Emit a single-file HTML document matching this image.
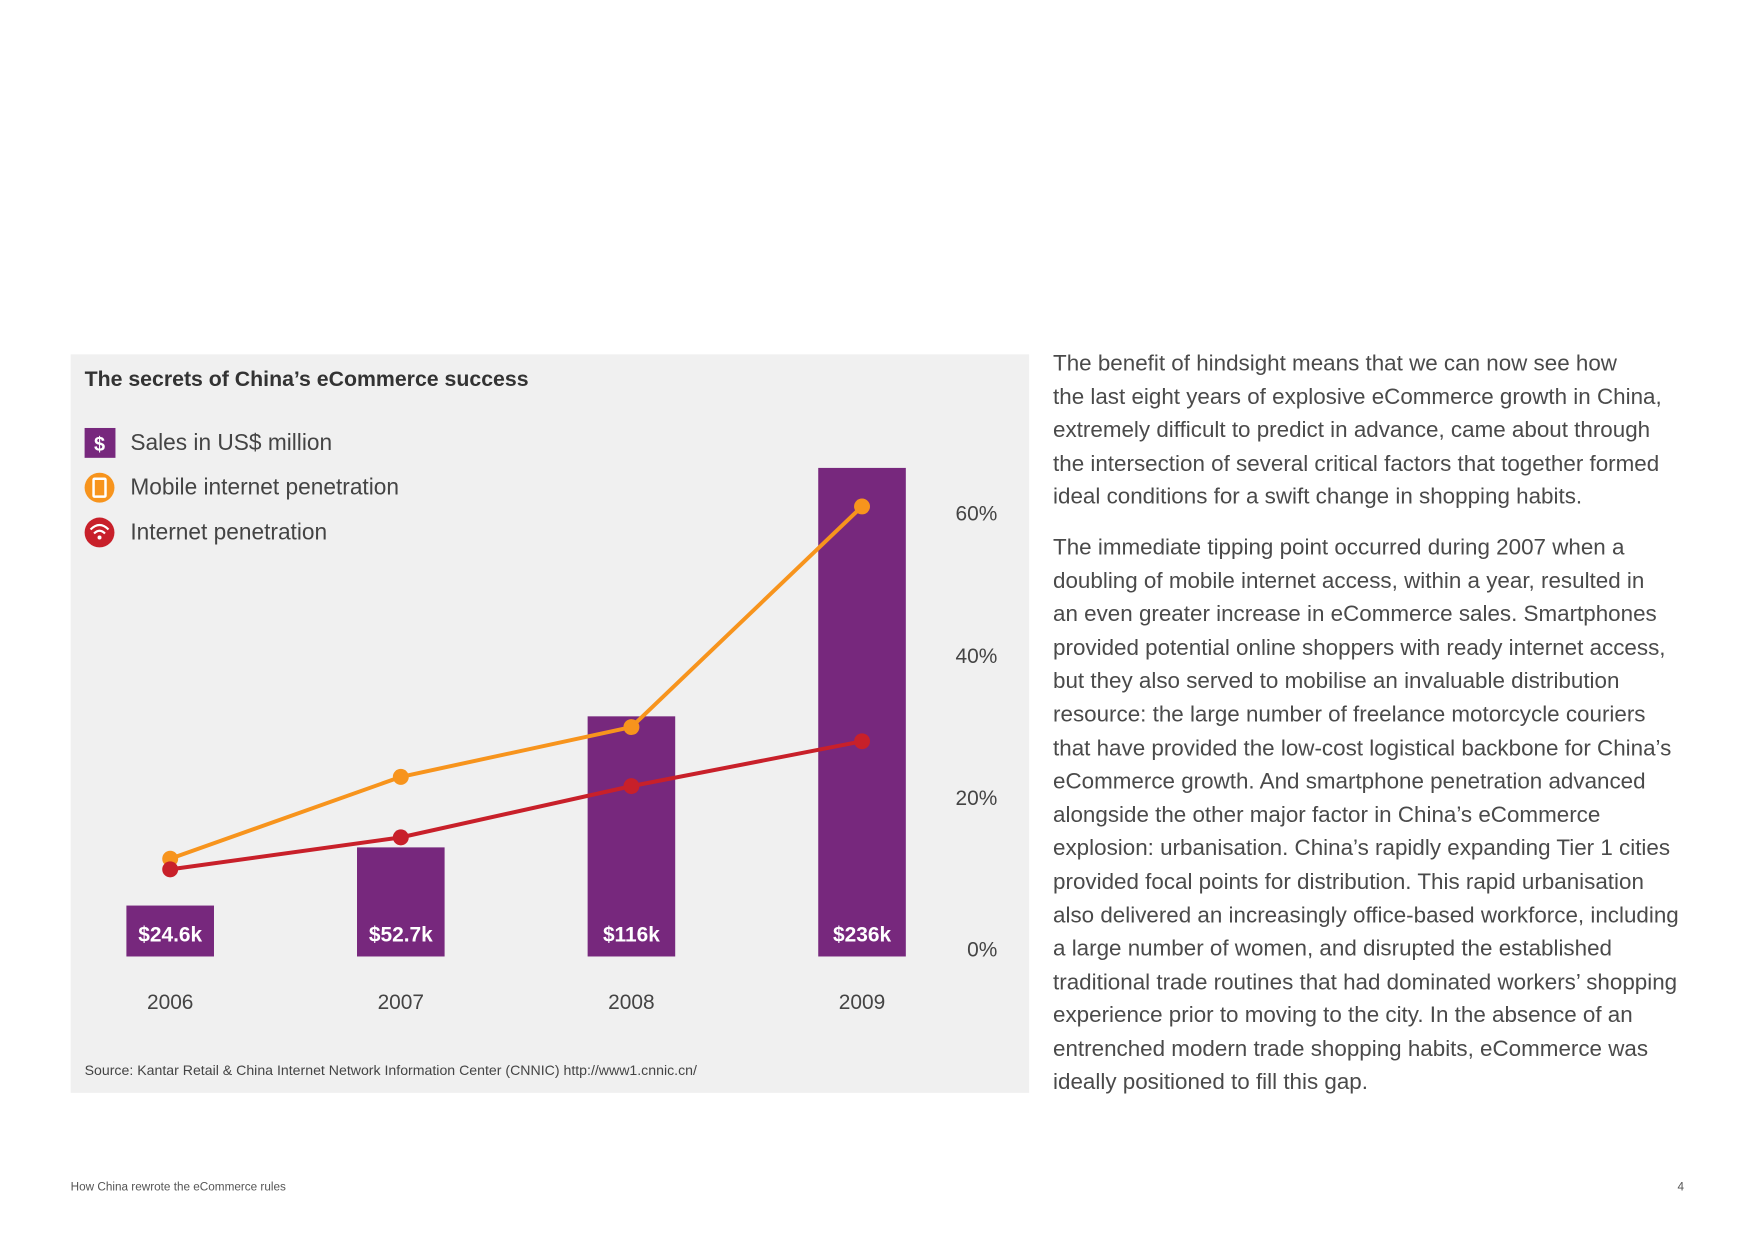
<!DOCTYPE html>
<html><head><meta charset="utf-8"><style>
body{margin:0;background:#fff;overflow:hidden;}
#page{position:relative;width:1754px;height:1240px;overflow:hidden;font-family:"Liberation Sans",sans-serif;color:#444;transform:scale(0.9953);transform-origin:0 0;}
#panel{position:absolute;left:71px;top:356px;width:963px;height:742px;background:#f0f0f0;}
#body-text{position:absolute;left:1058px;top:348px;width:700px;font-size:22.5px;line-height:33.6px;color:#4a4a4a;white-space:nowrap;}
#body-text p{margin:0 0 17px 0;}
</style></head><body>
<div id="page">
<div id="panel"></div>
<svg id="chart" width="1754" height="1240" style="position:absolute;left:0;top:0" font-family="Liberation Sans, sans-serif">
<text x="85" y="388" font-size="21.4" font-weight="bold" fill="#333">The secrets of China’s eCommerce success</text>
<g>
<rect x="85" y="430" width="31" height="30" fill="#77287d"/>
<text x="100" y="453" font-size="20" font-weight="bold" fill="#fff" text-anchor="middle">$</text>
<text x="131" y="452" font-size="22.8" fill="#444">Sales in US$ million</text></g>
<g>
<circle cx="100" cy="490" r="15" fill="#f7941d"/>
<rect x="94" y="481" width="12" height="18" rx="1" fill="none" stroke="#fff" stroke-width="2.5"/>
<text x="131" y="497" font-size="22.8" fill="#444">Mobile internet penetration</text></g>
<g>
<circle cx="100" cy="535" r="15" fill="#c8202a"/>
<path d="M91 532 Q100 523 109 532" fill="none" stroke="#fff" stroke-width="2.2"/>
<path d="M94.5 536 Q100 530.5 105.5 536" fill="none" stroke="#fff" stroke-width="2.2"/>
<circle cx="100" cy="540" r="2" fill="#fff"/>
<text x="131" y="542" font-size="22.8" fill="#444">Internet penetration</text></g>
<g id="bars"></g><g id="lines"></g><g id="ticks"></g><g id="years"></g>
<text x="85" y="1080" font-size="14.2" fill="#444">Source: Kantar Retail &amp; China Internet Network Information Center (CNNIC) http://www1.cnnic.cn/</text>
<text x="71" y="1196" font-size="11.8" fill="#555">How China rewrote the eCommerce rules</text>
<text x="1692" y="1196" font-size="11.8" fill="#555" text-anchor="end">4</text>
</svg>
<div id="body-text">
<p>The benefit of hindsight means that we can now see how<br>the last eight years of explosive eCommerce growth in China,<br>extremely difficult to predict in advance, came about through<br>the intersection of several critical factors that together formed<br>ideal conditions for a swift change in shopping habits.</p>
<p>The immediate tipping point occurred during 2007 when a<br>doubling of mobile internet access, within a year, resulted in<br>an even greater increase in eCommerce sales. Smartphones<br>provided potential online shoppers with ready internet access,<br>but they also served to mobilise an invaluable distribution<br>resource: the large number of freelance motorcycle couriers<br>that have provided the low-cost logistical backbone for China’s<br>eCommerce growth. And smartphone penetration advanced<br>alongside the other major factor in China’s eCommerce<br>explosion: urbanisation. China’s rapidly expanding Tier 1 cities<br>provided focal points for distribution. This rapid urbanisation<br>also delivered an increasingly office-based workforce, including<br>a large number of women, and disrupted the established<br>traditional trade routines that had dominated workers’ shopping<br>experience prior to moving to the city. In the absence of an<br>entrenched modern trade shopping habits, eCommerce was<br>ideally positioned to fill this gap.</p>
</div>
</div>
<script>
const years=["2006","2007","2008","2009"];
const sales=[24.6,52.7,116,236];
const salesLabels=["$24.6k","$52.7k","$116k","$236k"];
const mobilePct=[11.5,23,30,61];
const internetPct=[10,14.5,21.7,28];
const pctTicks=[0,20,40,60];
const NS="http://www.w3.org/2000/svg";
function xC(i){return 171+i*231.7;}
function yBar(v){return 961-v*2.08;}
function yPct(v){return 945-v*7.15;}
function mk(t,a,p){const e=document.createElementNS(NS,t);for(const k in a)e.setAttribute(k,a[k]);p.appendChild(e);return e;}
const gb=document.getElementById('bars');
sales.forEach((v,i)=>{
 const r=mk('rect',{x:xC(i)-44,y:yBar(v),width:88,height:961-yBar(v),fill:'#77287d'},gb);
 
 
 const t=mk('text',{x:xC(i),y:946,'font-size':21,'font-weight':'bold',fill:'#fff','text-anchor':'middle'},gb);
 t.textContent=salesLabels[i];
 
 
});
const gl=document.getElementById('lines');
function series(vals,col,name){
 const pl=mk('polyline',{points:vals.map((v,i)=>xC(i)+','+yPct(v)).join(' '),fill:'none',stroke:col,'stroke-width':4},gl);
 
 
 vals.forEach((v,i)=>{
  const c=mk('circle',{cx:xC(i),cy:yPct(v),r:8,fill:col},gl);
  
  
 });
}
series(mobilePct,'#f7941d','mobile');
series(internetPct,'#c8202a','internet');
const gt=document.getElementById('ticks');
pctTicks.forEach(v=>{
 const y=v===0?961:yPct(v)+7;
 const t=mk('text',{x:1002,y:y,'font-size':21,fill:'#444','text-anchor':'end'},gt);
 t.textContent=v+'%';
 
 
});
const gy=document.getElementById('years');
years.forEach((y,i)=>{
 const t=mk('text',{x:xC(i),y:1014,'font-size':21,fill:'#444','text-anchor':'middle'},gy);
 t.textContent=y;
 
 
});
</script>
</body></html>
